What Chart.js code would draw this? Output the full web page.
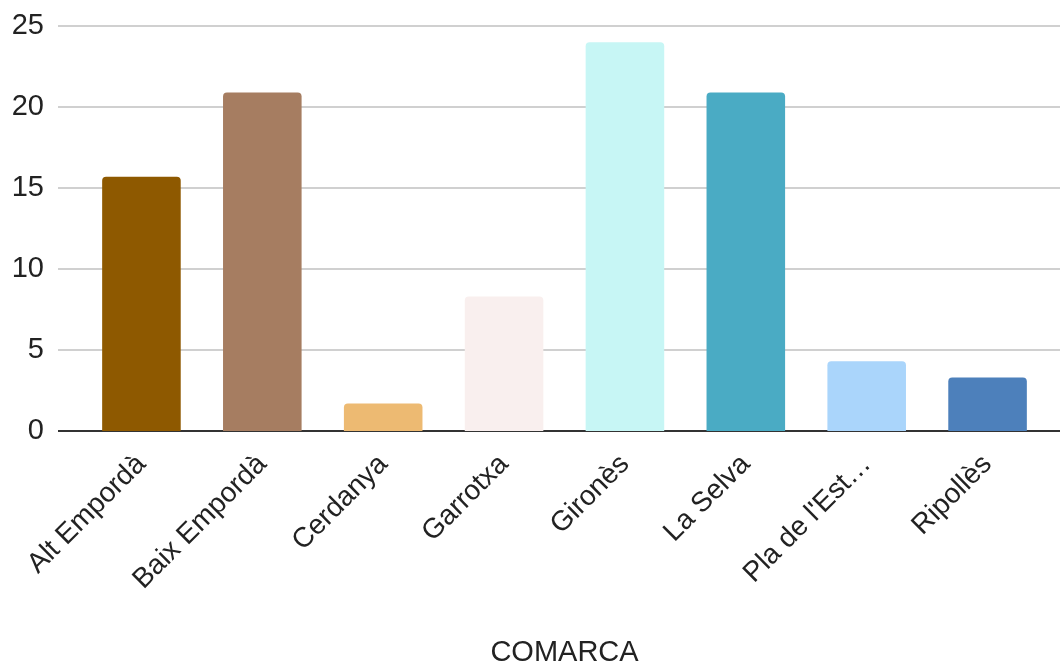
<!DOCTYPE html>
<html>
<head>
<meta charset="utf-8">
<script src="https://cdn.jsdelivr.net/npm/chart.js@4/dist/chart.umd.min.js"></script>
<style>
  html, body { margin: 0; padding: 0; background: #fff; }
  #wrap { width: 1060px; height: 666px; }
</style>
</head>
<body>
<div id="wrap"><canvas id="chart" width="1060" height="666"></canvas></div>
<script>
const comarques = ['Alt Empordà', 'Baix Empordà', 'Cerdanya', 'Garrotxa', 'Gironès', 'La Selva', "Pla de l'Estany", 'Ripollès'];
const values = [15.7, 20.9, 1.7, 8.3, 24.0, 20.9, 4.3, 3.3];
const barColors = ['#8e5900', '#a67d61', '#edba72', '#f9efee', '#c7f6f5', '#4aabc4', '#aad5fb', '#4d80bb'];
const yTicks = [0, 5, 10, 15, 20, 25];

const fontFamily = 'Liberation Sans, Arial, sans-serif';

// gridlines run wider than the bars, like the original sheet chart
const gridPlugin = {
  id: 'wideGrid',
  beforeDatasetsDraw(chart) {
    const { ctx } = chart;
    const y = chart.scales.y;
    ctx.save();
    yTicks.forEach((t) => {
      const py = Math.round(y.getPixelForValue(t));
      ctx.beginPath();
      ctx.moveTo(58, py);
      ctx.lineTo(1060, py);
      ctx.strokeStyle = t === 0 ? '#333333' : '#d0d0d0';
      ctx.lineWidth = 2;
      ctx.stroke();
    });
    ctx.restore();
  },
};

new Chart(document.getElementById('chart'), {
  type: 'bar',
  data: {
    labels: comarques,
    datasets: [{
      data: values,
      backgroundColor: barColors,
      borderRadius: { topLeft: 4, topRight: 4 },
      borderSkipped: 'bottom',
      barPercentage: 0.65,
      categoryPercentage: 1,
    }],
  },
  options: {
    responsive: false,
    animation: false,
    layout: { padding: { top: 26, right: 12, left: 0, bottom: 0 } },
    plugins: {
      legend: { display: false },
      tooltip: { enabled: false },
    },
    scales: {
      x: {
        grid: { display: false },
        border: { display: false },
        ticks: {
          color: '#222',
          font: { family: fontFamily, size: 28 },
          minRotation: 45,
          maxRotation: 45,
          padding: 9,
          callback(value) {
            const label = this.getLabelForValue(value);
            return label.length > 12 ? label.slice(0, 12) + '…' : label;
          },
        },
        title: {
          display: true,
          text: 'COMARCA',
          color: '#222',
          font: { family: fontFamily, size: 29 },
          padding: { top: 0, bottom: -4 },
        },
        afterFit(scale) { scale.height = 235; },
      },
      y: {
        min: 0,
        max: 25,
        grid: { display: false, tickLength: 37 },
        border: { display: false },
        ticks: {
          stepSize: 5,
          color: '#222',
          padding: 0,
          font: { family: fontFamily, size: 29 },
        },
        afterFit(scale) { scale.width = 81; },
      },
    },
  },
  plugins: [gridPlugin],
});
</script>
</body>
</html>
